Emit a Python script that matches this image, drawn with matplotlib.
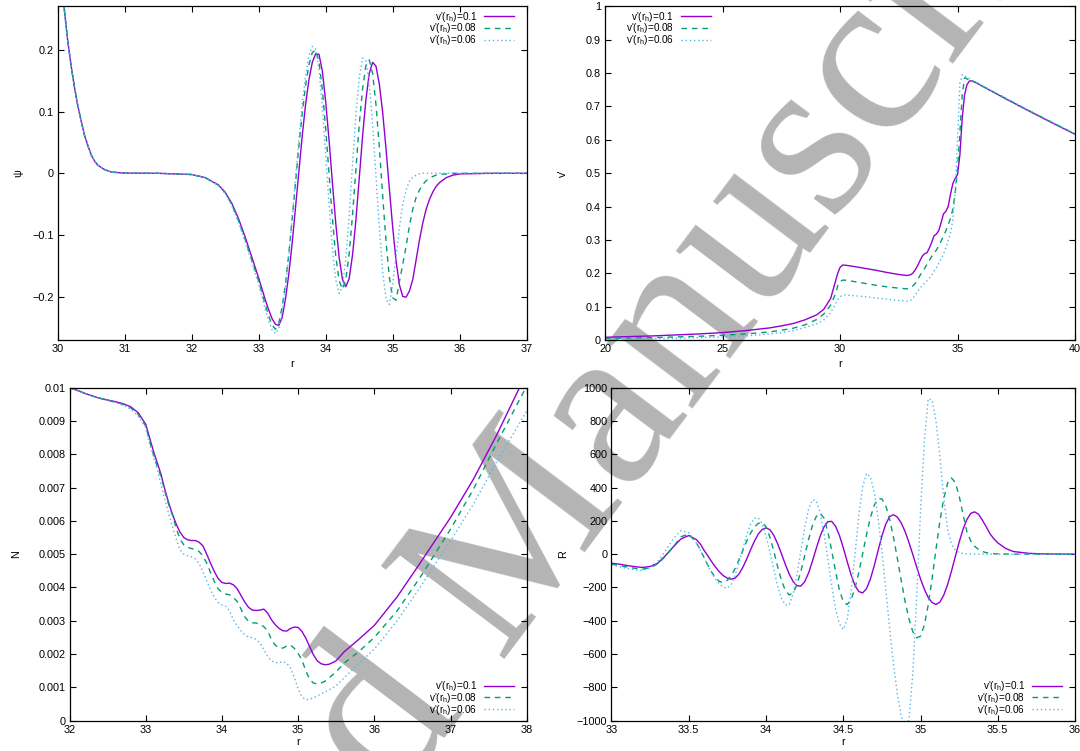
import numpy as np
import matplotlib
matplotlib.use('Agg')
import matplotlib.pyplot as plt
from matplotlib.ticker import FuncFormatter

plt.rcParams['font.family'] = ['Liberation Sans', 'DejaVu Sans']
plt.rcParams['mathtext.default'] = 'regular'
plt.rcParams['font.size'] = 7.8

labels = ["v'(r$_h$)=0.1", "v'(r$_h$)=0.08", "v'(r$_h$)=0.06"]
colors = ['#9400d3', '#009e73', '#56b4e9']

# ---- panel 1: psi(r) ----
r1 = [30.0, 30.05, 30.1, 30.15, 30.2, 30.25, 30.3, 30.35, 30.4, 30.45, 30.5, 30.55, 30.6, 30.7, 30.8,
      31.0, 31.5, 32.0, 32.2, 32.4, 32.5, 32.6, 32.7, 32.8, 32.9,
      33.0, 33.05, 33.1, 33.15, 33.2, 33.25, 33.3, 33.35, 33.4, 33.45,
      33.5, 33.55, 33.6, 33.65, 33.7, 33.75, 33.8, 33.85, 33.9, 33.95,
      34.0, 34.05, 34.1, 34.15, 34.2, 34.25, 34.3, 34.35, 34.4, 34.45,
      34.5, 34.55, 34.6, 34.65, 34.7, 34.75, 34.8, 34.85, 34.9, 34.95,
      35.0, 35.05, 35.1, 35.15, 35.2, 35.25, 35.3, 35.35, 35.4, 35.45,
      35.5, 35.55, 35.6, 35.65, 35.7, 35.8, 35.9, 36.0, 36.5, 37.0]
psi_01 = [0.40, 0.32, 0.265, 0.215, 0.175, 0.14, 0.11, 0.085, 0.062, 0.045, 0.030, 0.020, 0.013, 0.006, 0.002,
          0.0003, 0.0, -0.002, -0.007, -0.019, -0.031, -0.049, -0.074, -0.104, -0.137,
          -0.170, -0.188, -0.206, -0.222, -0.236, -0.245, -0.247, -0.234, -0.204, -0.163,
          -0.113, -0.055, 0.003, 0.061, 0.112, 0.152, 0.180, 0.194, 0.193, 0.166,
          0.116, 0.054, -0.015, -0.081, -0.136, -0.172, -0.184, -0.171, -0.133, -0.077,
          -0.009, 0.060, 0.119, 0.162, 0.180, 0.174, 0.145, 0.099, 0.040, -0.025,
          -0.088, -0.142, -0.181, -0.200, -0.201, -0.191, -0.172, -0.140, -0.108, -0.080,
          -0.058, -0.042, -0.030, -0.021, -0.015, -0.007, -0.003, -0.001, 0.0, 0.0]
psi_008 = [0.40, 0.32, 0.265, 0.215, 0.175, 0.14, 0.11, 0.085, 0.062, 0.045, 0.030, 0.020, 0.013, 0.006, 0.002,
           0.0003, 0.0, -0.002, -0.007, -0.019, -0.031, -0.051, -0.077, -0.108, -0.142,
           -0.175, -0.195, -0.214, -0.232, -0.246, -0.253, -0.243, -0.217, -0.179, -0.130,
           -0.074, -0.015, 0.044, 0.097, 0.143, 0.176, 0.196, 0.200, 0.181, 0.136,
           0.072, -0.001, -0.073, -0.134, -0.174, -0.188, -0.173, -0.131, -0.068, 0.005,
           0.078, 0.137, 0.175, 0.184, 0.162, 0.112, 0.043, -0.036, -0.110, -0.169,
           -0.202, -0.206, -0.176, -0.148, -0.118, -0.085, -0.058, -0.039, -0.027, -0.018,
           -0.012, -0.008, -0.005, -0.003, -0.002, -0.001, 0.0, 0.0, 0.0, 0.0]
psi_006 = [0.40, 0.32, 0.265, 0.215, 0.175, 0.14, 0.11, 0.085, 0.062, 0.045, 0.030, 0.020, 0.013, 0.006, 0.002,
           0.0003, 0.0, -0.002, -0.007, -0.020, -0.033, -0.053, -0.080, -0.112, -0.146,
           -0.180, -0.201, -0.222, -0.240, -0.254, -0.260, -0.252, -0.226, -0.185, -0.133,
           -0.072, -0.007, 0.056, 0.113, 0.158, 0.191, 0.206, 0.202, 0.168, 0.107,
           0.030, -0.050, -0.122, -0.173, -0.195, -0.184, -0.139, -0.069, 0.014, 0.094,
           0.155, 0.187, 0.183, 0.145, 0.079, -0.004, -0.088, -0.159, -0.204, -0.213,
           -0.180, -0.135, -0.088, -0.050, -0.027, -0.013, -0.006, -0.003, -0.001, 0.0,
           0.0, 0.0, 0.0, 0.0, 0.0, 0.0, 0.0, 0.0, 0.0, 0.0]

# ---- panel 2: v'(r) ----
r2 = [20, 21, 22, 23, 24, 25, 26, 27, 27.5, 28, 28.5, 29, 29.3, 29.6, 29.8, 29.9, 30.0, 30.1, 30.2, 30.5,
      31, 31.5, 32, 32.5, 32.85, 33.0, 33.1, 33.2, 33.3, 33.4, 33.5, 33.6, 33.7, 33.8, 33.9,
      34.0, 34.1, 34.2, 34.3, 34.4, 34.5, 34.6, 34.7, 34.8, 34.9, 35.0, 35.1, 35.2, 35.3, 35.4,
      35.5, 35.6, 35.8, 36, 37, 38, 39, 40]
vp_01 = [0.009, 0.011, 0.013, 0.016, 0.019, 0.023, 0.029, 0.037, 0.043, 0.050, 0.061, 0.076, 0.092, 0.125, 0.175,
         0.200, 0.218, 0.225, 0.225, 0.222, 0.216, 0.210, 0.203, 0.197, 0.194, 0.196, 0.201, 0.211, 0.223, 0.238,
         0.252, 0.259, 0.262, 0.276, 0.293, 0.313, 0.318, 0.328, 0.352, 0.378, 0.386, 0.400, 0.437, 0.469, 0.485,
         0.496, 0.555, 0.665, 0.735, 0.765, 0.776, 0.777, 0.771, 0.763, 0.725, 0.688, 0.652, 0.617]
vp_008 = [0.005, 0.006, 0.008, 0.010, 0.012, 0.015, 0.019, 0.025, 0.030, 0.036, 0.046, 0.062, 0.078, 0.105, 0.138,
          0.163, 0.176, 0.180, 0.180, 0.177, 0.171, 0.165, 0.160, 0.156, 0.154, 0.157, 0.163, 0.170, 0.181, 0.194,
          0.204, 0.215, 0.228, 0.239, 0.251, 0.262, 0.270, 0.283, 0.297, 0.312, 0.327, 0.345, 0.365, 0.392, 0.441,
          0.511, 0.620, 0.735, 0.786, 0.783, 0.779, 0.777, 0.771, 0.763, 0.726, 0.689, 0.653, 0.618]
vp_006 = [0.003, 0.004, 0.005, 0.006, 0.008, 0.010, 0.013, 0.019, 0.023, 0.029, 0.038, 0.049, 0.060, 0.083, 0.108,
          0.120, 0.130, 0.135, 0.136, 0.134, 0.131, 0.127, 0.123, 0.119, 0.117, 0.120, 0.126, 0.135, 0.146, 0.156,
          0.164, 0.171, 0.178, 0.186, 0.196, 0.207, 0.217, 0.230, 0.243, 0.258, 0.276, 0.297, 0.322, 0.360, 0.441,
          0.600, 0.770, 0.795, 0.792, 0.788, 0.784, 0.780, 0.772, 0.764, 0.727, 0.690, 0.654, 0.619]

# ---- panel 3: N(r), in units of 1e-3 ----
r3 = [32.0, 32.1, 32.2, 32.3, 32.4, 32.5, 32.6, 32.7, 32.8, 32.9,
      33.0, 33.05, 33.1, 33.15, 33.2, 33.25, 33.3, 33.35, 33.4, 33.45,
      33.5, 33.55, 33.6, 33.65, 33.7, 33.75, 33.8, 33.85, 33.9, 33.95,
      34.0, 34.05, 34.1, 34.15, 34.2, 34.25, 34.3, 34.35, 34.4, 34.45,
      34.5, 34.55, 34.6, 34.65, 34.7, 34.75, 34.8, 34.85, 34.9, 34.95,
      35.0, 35.05, 35.1, 35.15, 35.2, 35.25, 35.3, 35.35, 35.4, 35.45,
      35.5, 35.6, 35.8, 36.0, 36.3, 36.6, 37.0, 37.3, 37.6, 38.0]
N_01 = [10.0, 9.92, 9.83, 9.75, 9.68, 9.63, 9.58, 9.52, 9.43, 9.25,
        8.90, 8.50, 8.10, 7.75, 7.40, 6.95, 6.55, 6.20, 5.90, 5.66,
        5.50, 5.43, 5.41, 5.41, 5.36, 5.25, 5.00, 4.73, 4.48, 4.27,
        4.15, 4.12, 4.13, 4.08, 3.96, 3.76, 3.56, 3.40, 3.32, 3.31,
        3.32, 3.35, 3.23, 3.03, 2.88, 2.77, 2.70, 2.69, 2.77, 2.81,
        2.80, 2.68, 2.48, 2.23, 1.98, 1.80, 1.71, 1.68, 1.69, 1.74,
        1.80, 2.06, 2.45, 2.86, 3.72, 4.73, 6.10, 7.25, 8.55, 10.45]
N_008 = [10.0, 9.92, 9.83, 9.75, 9.68, 9.62, 9.57, 9.50, 9.40, 9.20,
         8.85, 8.40, 8.00, 7.65, 7.33, 6.90, 6.50, 6.18, 5.78, 5.45,
         5.28, 5.20, 5.17, 5.14, 5.08, 4.95, 4.73, 4.45, 4.18, 3.96,
         3.85, 3.80, 3.78, 3.70, 3.58, 3.35, 3.12, 2.98, 2.94, 2.93,
         2.90, 2.82, 2.70, 2.43, 2.27, 2.18, 2.18, 2.24, 2.27, 2.17,
         2.02, 1.82, 1.50, 1.25, 1.13, 1.10, 1.13, 1.18, 1.27, 1.37,
         1.47, 1.72, 2.08, 2.50, 3.30, 4.30, 5.75, 6.95, 8.30, 10.05]
N_006 = [10.0, 9.91, 9.82, 9.74, 9.67, 9.61, 9.55, 9.47, 9.36, 9.15,
         8.80, 8.30, 7.95, 7.55, 7.10, 6.65, 6.22, 5.83, 5.45, 5.13,
         5.00, 4.95, 4.92, 4.86, 4.72, 4.48, 4.20, 3.93, 3.70, 3.55,
         3.48, 3.44, 3.30, 3.03, 2.85, 2.70, 2.58, 2.51, 2.49, 2.44,
         2.33, 2.13, 1.93, 1.79, 1.74, 1.74, 1.78, 1.72, 1.58, 1.30,
         0.95, 0.72, 0.63, 0.64, 0.69, 0.74, 0.80, 0.86, 0.92, 0.98,
         1.05, 1.28, 1.72, 2.15, 3.00, 4.00, 5.40, 6.50, 7.75, 9.30]

# ---- panel 4: R(r) ----
r4 = [33.0, 33.05, 33.1, 33.15, 33.2, 33.25, 33.3, 33.35, 33.4, 33.45, 33.5, 33.55,
      33.575, 33.6, 33.625, 33.65, 33.675, 33.7, 33.725, 33.75, 33.775,
      33.8, 33.825, 33.85, 33.875, 33.9, 33.925, 33.95, 33.975,
      34.0, 34.025, 34.05, 34.075, 34.1, 34.125, 34.15, 34.175, 34.2, 34.225,
      34.25, 34.275, 34.3, 34.325, 34.35, 34.375, 34.4, 34.425, 34.45, 34.475,
      34.5, 34.525, 34.55, 34.575, 34.6, 34.625, 34.65, 34.675, 34.7, 34.725,
      34.75, 34.775, 34.8, 34.825, 34.85, 34.875, 34.9, 34.925, 34.95, 34.975,
      35.0, 35.025, 35.05, 35.075, 35.1, 35.125, 35.15, 35.175, 35.2, 35.225,
      35.25, 35.275, 35.3, 35.325, 35.35, 35.375, 35.4, 35.425, 35.45, 35.475, 35.5,
      35.55, 35.6, 35.7, 35.8, 35.9, 36.0]
R_01 = [-54, -60, -68, -75, -80, -74, -54, -8, 44, 92, 112, 87,
        61, 22, -12, -48, -80, -108, -130, -144, -150,
        -144, -119, -79, -29, 26, 78, 121, 148,
        158, 147, 114, 63, 2, -61, -119, -164, -189, -192,
        -166, -114, -43, 34, 107, 163, 195, 197, 168, 113,
        39, -43, -122, -186, -224, -233, -208, -151, -71, 20,
        109, 180, 226, 237, 223, 188, 136, 71, -2, -77,
        -149, -211, -260, -291, -302, -288, -247, -183, -103, -15,
        72, 149, 208, 245, 254, 240, 205, 165, 122, 92, 68,
        35, 16, 5, 1.5, 0.5, 0]
R_008 = [-60, -68, -77, -85, -90, -82, -58, -12, 45, 105, 121, 68,
         25, -22, -69, -111, -145, -165, -170, -157, -129,
         -86, -34, 22, 77, 126, 163, 185, 191,
         164, 103, 20, -74, -158, -218, -245, -233, -184, -105,
         -10, 87, 171, 226, 246, 217, 137, 22, -103, -216,
         -285, -303, -274, -208, -111, 1, 115, 217, 293, 333,
         332, 291, 211, 102, -25, -157, -283, -388, -465, -502,
         -493, -425, -305, -145, 29, 196, 332, 426, 458, 430,
         350, 240, 135, 80, 48, 28, 16, 9, 5, 3, 2,
         1, 0, 0, 0, 0, 0]
R_006 = [-65, -75, -86, -94, -98, -84, -45, 22, 92, 142, 128, 66,
         24, -24, -71, -116, -153, -182, -199, -204, -181,
         -127, -52, 33, 115, 179, 216, 219, 182,
         110, 14, -91, -190, -265, -306, -304, -241, -127, 16,
         157, 269, 327, 320, 250, 127, -28, -187, -327, -418,
         -452, -394, -230, -6, 225, 402, 485, 465, 375, 220,
         22, -210, -444, -662, -840, -974, -1039, -996, -717, -261,
         254, 680, 935, 925, 800, 590, 340, 150, 60, 25,
         10, 4, 2, 1, 0, 0, 0, 0, 0, 0, 0,
         0, 0, 0, 0, 0, 0]


def fmt(v, pos):
    return ('%g' % round(v, 6)).replace('-', '\u2212')


def style(ax, xlim, ylim, xt, yt):
    ax.set_xlim(*xlim)
    ax.set_ylim(*ylim)
    ax.set_xticks(xt)
    ax.set_yticks(yt)
    ax.xaxis.set_major_formatter(FuncFormatter(fmt))
    ax.yaxis.set_major_formatter(FuncFormatter(fmt))
    ax.tick_params(direction='in', top=True, right=True, length=4, width=0.8, pad=3, labelsize=7.8)
    for s in ax.spines.values():
        s.set_linewidth(0.9)
    ax.patch.set_alpha(0)


def draw(ax, x, ys, legloc, anchor):
    styles = [dict(ls='-'), dict(ls=(0, (4, 3.5))), dict(ls=(0, (1, 2)))]
    for y, c, lab, st in zip(ys, colors, labels, styles):
        ax.plot(x, y, color=c, lw=1.0, label=lab, **st)
    ax.legend(loc=legloc, bbox_to_anchor=anchor, frameon=False, markerfirst=False,
              handlelength=3.0, handletextpad=0.7, labelspacing=-0.23,
              borderpad=0, borderaxespad=0, fontsize=7.2)


fig = plt.figure(figsize=(10.8, 7.51), dpi=100)

# watermark behind the plots
fig.text(0.4565, 0.2277, 'Accepted Manuscript', rotation=53, rotation_mode='anchor',
         ha='center', va='center', fontsize=170, family='Liberation Serif',
         color='#b4b4b4', zorder=-1)

ax1 = fig.add_axes([0.0534, 0.5469, 0.4343, 0.4447])
ax2 = fig.add_axes([0.5602, 0.5469, 0.4352, 0.4447])
ax3 = fig.add_axes([0.0644, 0.0404, 0.4233, 0.4434])
ax4 = fig.add_axes([0.5662, 0.0404, 0.4292, 0.4434])

draw(ax1, r1, [psi_01, psi_008, psi_006], 'upper right', (0.973, 0.990))
style(ax1, (30, 37), (-0.271, 0.271), range(30, 38), [-0.2, -0.1, 0, 0.1, 0.2])
ax1.set_ylabel('\u03c8')
ax1.set_xlabel('r')

draw(ax2, r2, [vp_01, vp_008, vp_006], 'upper right', (0.225, 0.990))
style(ax2, (20, 40), (0, 1), [20, 25, 30, 35, 40], np.linspace(0, 1, 11))
ax2.set_ylabel("v'")
ax2.set_xlabel('r')

N_scale = 1e-3
draw(ax3, r3, [np.array(N_01) * N_scale, np.array(N_008) * N_scale, np.array(N_006) * N_scale],
     'lower right', (0.973, 0.012))
style(ax3, (32, 38), (0, 0.01), range(32, 39), np.linspace(0, 0.01, 11))
ax3.set_ylabel('N')
ax3.set_xlabel('r')

draw(ax4, r4, [R_01, R_008, R_006], 'lower right', (0.972, 0.012))
style(ax4, (33, 36), (-1000, 1000), [33, 33.5, 34, 34.5, 35, 35.5, 36], range(-1000, 1001, 200))
ax4.set_ylabel('R')
ax4.set_xlabel('r')

ax1.yaxis.set_label_coords(-0.074, 0.5)
ax2.yaxis.set_label_coords(-0.079, 0.5)
ax3.yaxis.set_label_coords(-0.107, 0.5)
ax4.yaxis.set_label_coords(-0.094, 0.5)
ax1.xaxis.set_label_coords(0.5, -0.0575)
ax2.xaxis.set_label_coords(0.5, -0.0575)
ax3.xaxis.set_label_coords(0.5, -0.0505)
ax4.xaxis.set_label_coords(0.5, -0.0505)

fig.savefig('out.png', dpi=100)
